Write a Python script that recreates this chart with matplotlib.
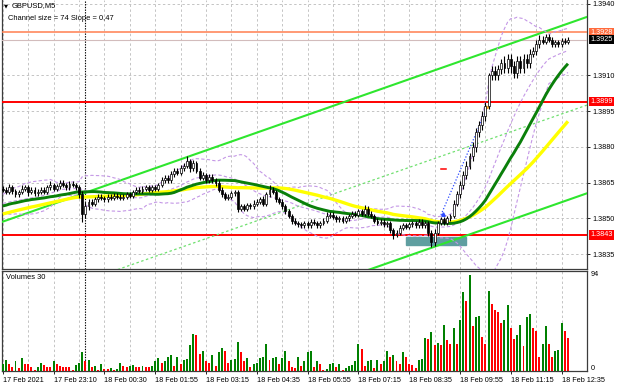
import matplotlib
matplotlib.use('Agg')
import matplotlib.pyplot as plt
import numpy as np
import pandas as pd
from matplotlib.patches import Rectangle

plt.rcParams['font.family'] = ['Liberation Sans', 'DejaVu Sans']

W, H = 620, 388

# closes in pips above 1.3800, one per M5 bar (17 Feb 21:50 .. 18 Feb 12:45)
closes_pips = [
    62, 61, 63, 61.5, 60, 61, 62.5, 63, 61, 62,
    60.5, 61, 62, 61, 63, 64, 62.5, 63.5, 65, 64,
    63, 64.5, 64, 63, 60, 52, 55, 57, 56, 58,
    59, 58.5, 58, 59, 58.5, 59.5, 59, 58.5, 59, 60,
    59.5, 61, 62, 61.5, 62.5, 63, 62, 63, 62.5, 64,
    66, 67, 66, 68.5, 70, 69, 71, 72, 74, 71,
    73, 70, 67, 68, 66, 67.5, 66, 65, 62, 60,
    58.5, 59, 60.5, 61, 54, 55, 54, 55.5, 55, 56,
    57, 58, 56, 60, 62, 61, 58, 57, 55, 53,
    51, 49, 48, 47.5, 47, 48, 47, 48.5, 48, 47,
    48, 49, 51, 51.5, 50.5, 49.5, 50, 49, 50, 51,
    52, 51.5, 53, 52, 54, 52, 51, 49, 48, 48.5,
    47.5, 48, 45, 43, 44, 46, 47, 46.5, 47.5, 48,
    47, 48.5, 47, 48, 44, 40, 44, 48, 49.5, 48,
    50, 51, 56, 60, 64, 68, 72, 76, 80, 86,
    89, 93, 97, 110, 112, 110, 112.5, 115, 113, 117,
    114, 111, 116, 113, 117, 115, 119, 120, 123, 125,
    124, 126, 125, 123, 124, 123, 124.5, 124, 125,
]
first_open_pips = 62.5

# upper / lower shadows, pips beyond the body
wick_up = [
    1, 1, 1.5, 1, 1, 1, 1.5, 1, 1, 1, 1, 1.5, 1, 1, 1, 1.5, 1, 1, 1, 1,
    1, 1, 1, 1, 1, 1.5, 2, 1, 1, 1, 1, 1, 1, 1, 1, 1, 1, 1, 1, 1,
    1, 1, 1, 1, 1, 1, 1, 1, 1, 1, 1.5, 1, 1, 1.5, 1, 1, 1.5, 1, 2, 1,
    1.5, 1, 1, 1.5, 1, 1, 1, 1, 1, 1, 1, 1, 1, 1, 1, 1, 1, 1, 1, 1.5,
    1, 1, 1.5, 1, 2, 1, 1, 1, 1, 1, 1, 1, 1, 1, 1, 1, 1, 1, 1, 1,
    1, 1, 1.5, 1, 1, 1, 1, 1, 1, 1, 1, 1, 1, 1, 1.5, 1, 1, 1, 1, 1,
    1, 1, 1, 1, 1, 1, 1, 1, 1, 1, 1, 1, 1, 1, 1, 1, 1.5, 1, 1, 1,
    1, 1, 1.5, 1.5, 1.5, 2, 2, 1.5, 2, 2, 2, 2, 2, 1, 2, 2, 2, 2, 3, 2,
    2, 2, 2, 2, 2, 2, 2, 2, 2, 2, 1.5, 1.5, 1.5, 1, 1, 1, 1, 1, 1,
]
wick_dn = [
    1, 1, 1, 1.5, 1, 1, 1, 1, 1.5, 1, 1, 1, 1, 1, 1, 1, 1, 1, 1, 1,
    1, 1, 1, 1, 1.5, 3.5, 2, 1.5, 1, 1, 1, 1, 1, 1, 1, 1, 1, 1, 1, 1,
    1, 1, 1, 1, 1, 1, 1, 1, 1, 1, 1, 1, 1, 1, 1, 1, 1, 1, 1, 1.5,
    1, 1, 1, 1, 1, 1, 1, 1.5, 1, 1, 1, 1, 1, 1, 1.5, 1, 1, 1, 1, 1,
    1, 1, 1, 1, 1, 1, 1, 1, 1, 1, 1, 1.5, 1, 1, 1, 1, 1, 1, 1, 1,
    1, 1, 1, 1, 1, 1, 1, 1, 1, 1, 1, 1, 1, 1, 1, 1, 1, 1, 1, 1,
    1, 1, 1, 1.5, 1, 1, 1, 1, 1, 1, 1, 1, 1, 1, 1.5, 2, 1.5, 1, 1, 1,
    1, 1, 1, 1, 1.5, 1.5, 1.5, 1.5, 2, 2, 2, 2, 2, 1, 2, 2, 2, 2, 2, 2,
    3, 2, 2, 2, 2, 2, 2, 1.5, 1.5, 1.5, 1, 1, 1, 1, 1, 1, 1, 1, 1,
]

# closes before the visible window, only feed the moving averages / bands
warmup_pips = [
    44, 45, 44, 46, 45, 47, 46, 45, 47, 48, 46, 47, 48, 47, 49, 48, 47, 48, 49, 50,
    51, 50, 52, 53, 52, 54, 53, 55, 54, 56, 55, 57, 56, 55, 57, 58, 57, 56, 58, 57,
    56, 55, 56, 54, 55, 53, 54, 56, 58,
]

volumes = [
    7, 11, 7, 4, 10, 3, 13, 7, 7, 4, 1, 4, 8, 6, 4, 4, 10, 7, 5, 4,
    4, 4, 1, 6, 8, 19, 10, 11, 4, 5, 1, 7, 2, 2, 3, 1, 2, 8, 5, 4,
    5, 6, 4, 4, 5, 4, 4, 5, 10, 13, 8, 10, 14, 16, 5, 14, 7, 11, 12, 25,
    36, 35, 17, 20, 10, 8, 16, 5, 19, 23, 20, 8, 11, 12, 28, 19, 10, 13, 4, 7,
    8, 13, 14, 26, 11, 13, 14, 7, 13, 20, 10, 4, 3,
    14, 5, 10, 19, 20, 4, 10, 7, 1, 2, 7, 8, 4, 7, 1, 3, 5, 6, 10, 26, 22,
    5, 10, 11, 3, 11, 7, 10, 20, 14, 16, 10, 7, 19, 14, 7, 6, 3, 11, 12, 32, 31,
    38, 25, 27, 25, 45, 30, 26, 42, 26, 50, 77, 69, 94, 44, 53, 54, 33, 26, 78, 66,
    60, 58, 47, 50, 65, 42, 31, 35, 45, 24, 53, 56, 42, 39, 14, 26, 44, 26, 14, 20,
    21, 47, 39, 32,
]

time_labels = ['17 Feb 2021', '17 Feb 23:10', '18 Feb 00:30', '18 Feb 01:55',
               '18 Feb 03:15', '18 Feb 04:35', '18 Feb 05:55', '18 Feb 07:15',
               '18 Feb 08:35', '18 Feb 09:55', '18 Feb 11:15', '18 Feb 12:35']
label_step = 16
grid_step = 8
day_separator_bar = 26

price_ticks = [1.3940, 1.3910, 1.3895, 1.3880, 1.3865, 1.3850, 1.3835]
res_level = 1.3928
bid_level = 1.3925
red_levels = [1.3899, 1.3843]

chan_bars = [0, 178]
chan_upper = [1.38486, 1.39317]
chan_size = 0.0074

zone_bars = [127, 146]
zone_prices = [1.38388, 1.38422]
trend_bars = [138, 152.5]
trend_prices = [1.38514, 1.38963]

n = min(len(closes_pips), len(volumes))
c = 1.38 + np.array(closes_pips[:n]) / 1e4
o = np.concatenate([[1.38 + first_open_pips / 1e4], c[:-1]])
hi = np.maximum(o, c) + np.array(wick_up[:n]) / 1e4
lo = np.minimum(o, c) - np.array(wick_dn[:n]) / 1e4
v = np.array(volumes[:n])
x = np.arange(n)

allc = pd.Series(np.concatenate([1.38 + np.array(warmup_pips) / 1e4, c]))
ma30 = allc.rolling(30).mean().values[-n:]
ma50 = allc.rolling(50).mean().values[-n:]
mid20 = allc.rolling(20).mean()
sd20 = allc.rolling(20).std(ddof=0)
bb_up = (mid20 + 2 * sd20).values[-n:]
bb_dn = (mid20 - 2 * sd20).values[-n:]
bb_mid = mid20.values[-n:]

fig = plt.figure(figsize=(W / 100, H / 100), dpi=100)
fig.patch.set_facecolor('white')


def px_rect(left, top, right, bottom):
    return [left / W, 1 - bottom / H, (right - left) / W, (bottom - top) / H]


ax = fig.add_axes(px_rect(2, 0, 586.5, 268.5))
axv = fig.add_axes(px_rect(2, 270.5, 586.5, 371))
xlim = (-0.25, 183.84)
ax.set_xlim(xlim)
axv.set_xlim(xlim)
ax.set_ylim(1.382894, 1.394159)
axv.set_ylim(0, 98.4)

grid_kw = dict(color='#c4c4c4', lw=0.7, ls=(0, (2.5, 2.5)), zorder=0)
for b in range(0, 185, grid_step):
    ax.axvline(b, **grid_kw)
    axv.axvline(b, **grid_kw)
for p in price_ticks + [bid_level]:
    ax.axhline(p, **grid_kw)

for a in (ax, axv):
    a.axvline(day_separator_bar, color='black', lw=0.8, ls=(0, (1.2, 1.2)), zorder=1)

# zone, levels
ax.add_patch(Rectangle((zone_bars[0], zone_prices[0]), zone_bars[1] - zone_bars[0],
                       zone_prices[1] - zone_prices[0], color='#5f9ea0', zorder=2))
ax.axhline(res_level, color='#ff7f50', lw=1.1, zorder=3)
ax.axhline(bid_level, color='#d2bcbc', lw=0.8, zorder=3)
for p in red_levels:
    ax.axhline(p, color='#ff0000', lw=1.4, zorder=3)

# channel
cb = np.array([-1, 186])
slope = (chan_upper[1] - chan_upper[0]) / (chan_bars[1] - chan_bars[0])
up_line = chan_upper[0] + slope * (cb - chan_bars[0])
ax.plot(cb, up_line, color='#2ee62e', lw=1.5, zorder=3)
ax.plot(cb, up_line - chan_size, color='#2ee62e', lw=1.5, zorder=3)
ax.plot(cb, up_line - chan_size / 2, color='#6fe06f', lw=0.9, ls=(0, (2, 2)), zorder=3)

# indicators
bb_kw = dict(color='#c497e6', lw=0.8, ls=(0, (3, 2)), zorder=4)
ax.plot(x, bb_up, **bb_kw)
ax.plot(x, bb_dn, **bb_kw)
ax.plot(x, bb_mid, **bb_kw)
ax.plot(x, ma50, color='#ffff00', lw=2.4, zorder=5, solid_capstyle='butt')
ax.plot(x, ma30, color='#0a7f0a', lw=2.1, zorder=6, solid_capstyle='butt')

ax.plot(trend_bars, trend_prices, color='#2f4cff', lw=0.9, ls=(0, (1, 1.5)), zorder=6)
ax.plot(trend_bars[0] + 0.5, trend_prices[0] + 0.00005, marker='^', ms=2.5, color='#2f4cff', zorder=7)
ax.plot([138, 139.6], [1.38707, 1.38707], color='#ff0000', lw=1.1, zorder=6)
ax.plot(152.5, 1.38967, marker='>', ms=2.2, color='#f0a020', zorder=7)

# candles
bull = c >= o
ax.vlines(x, lo, hi, color='black', lw=0.8, zorder=8)
body = np.maximum(np.abs(c - o), 0.00002)
ax.bar(x, body, bottom=np.minimum(o, c), width=0.6,
       color=np.where(bull, 'white', 'black'), edgecolor='black', lw=0.5, zorder=9)

# volumes
vcol = ['#008000'] + ['#008000' if v[i] > v[i - 1] else '#ff0000' for i in range(1, n)]
axv.bar(x, v, width=0.62, color=vcol, zorder=3)

# axes styling
for a in (ax, axv):
    for s in a.spines.values():
        s.set_color('#3c3c3c')
        s.set_linewidth(0.9)
ax.spines['top'].set_visible(False)

ax.set_xticks([])
ax.yaxis.tick_right()
ax.set_yticks(price_ticks)
ax.set_yticklabels(['%.4f' % p for p in price_ticks])
ax.tick_params(axis='y', length=2.5, width=0.6, labelsize=5.2, pad=1.5)

tr = ax.get_yaxis_transform()
for p, fc in [(res_level, '#ff6a3c'), (bid_level, 'black'), (1.3899, '#ff0000'), (1.3843, '#ff0000')]:
    ax.text(1.0062, p, '%.4f' % p, transform=tr, ha='left', va='center', fontsize=5.2,
            color='white', bbox=dict(boxstyle='square,pad=0.18', fc=fc, ec='none'), clip_on=False)

axv.yaxis.tick_right()
axv.set_yticks([])
trv = axv.get_yaxis_transform()
axv.text(1.0077, 94, '94', transform=trv, ha='left', va='center', fontsize=5.2)
axv.text(1.0077, 2.5, '0', transform=trv, ha='left', va='center', fontsize=5.2)
axv.text(0.007, 0.93, 'Volumes 30', transform=axv.transAxes, ha='left', va='center', fontsize=5.4)

label_bars = [i * label_step for i in range(len(time_labels))]
axv.set_xticks(label_bars)
axv.set_xticklabels(time_labels)
for t in axv.get_xticklabels():
    t.set_ha('left')
axv.tick_params(axis='x', length=2.5, width=0.6, labelsize=5.2, pad=1.5)

ax.text(0.004, 0.979, '\u25bc', transform=ax.transAxes, fontsize=3.8, family='DejaVu Sans',
        ha='left', va='center')
ax.text(0.017, 0.979, 'GBPUSD,M5', transform=ax.transAxes, fontsize=5.4, ha='left', va='center')
ax.text(0.011, 0.93, 'Channel size = 74 Slope = 0,47', transform=ax.transAxes,
        fontsize=5.4, ha='left', va='center')

fig.savefig('out.png', dpi=100, facecolor='white')
